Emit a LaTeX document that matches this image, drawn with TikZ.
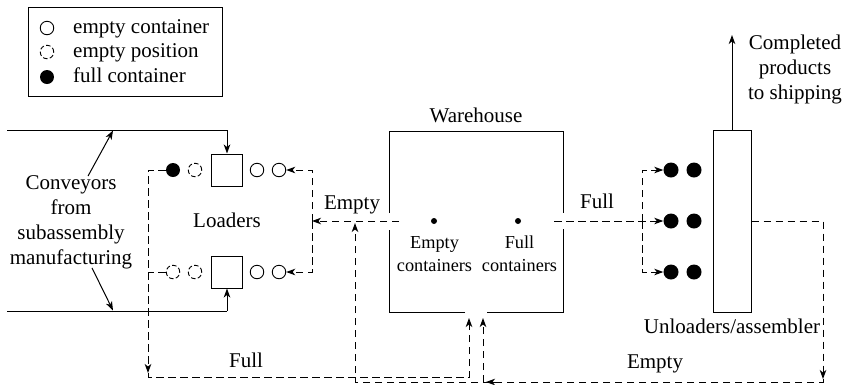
\documentclass[tikz,border=0pt]{standalone}
\usepackage{fontspec}
\setmainfont{Liberation Serif}
\usetikzlibrary{arrows.meta}
\begin{document}
\begin{tikzpicture}[x=1pt,y=-1pt,
  ln/.style={line width=1pt},
  dsh/.style={line width=1pt, dash pattern=on 7.5pt off 4.5pt},
  arr/.style={-{Stealth[length=9pt,width=6.5pt,inset=2.5pt]}},
  emptyc/.style={circle, draw, line width=0.9pt, minimum size=13.5pt, inner sep=0pt},
  emptyp/.style={emptyc, dash pattern=on 4.5pt off 2.4pt},
  fullc/.style={circle, fill=black, minimum size=14pt, inner sep=0pt},
  bigdot/.style={circle, fill=black, minimum size=15pt, inner sep=0pt},
  smalldot/.style={circle, fill=black, minimum size=6pt, inner sep=0pt},
  lbl/.style={font=\fontsize{21}{25}\selectfont, inner sep=0pt},
  mlbl/.style={font=\fontsize{21}{25}\selectfont, inner sep=0pt, align=center},
  inlbl/.style={font=\fontsize{18.3}{23}\selectfont, inner sep=0pt, align=center},
  box/.style={draw, line width=1pt, inner sep=0pt}]
\useasboundingbox (0,0) rectangle (843,384);

% legend
\node[box, line width=0.9pt, minimum width=194pt, minimum height=89pt] (legend) at (125,51.5) {};
\node[emptyc] (le1) at (47,28) {};
\node[emptyp] (le2) at (47,52) {};
\node[fullc] (le3) at (47,77) {};
\node[lbl, anchor=base west] (lt1) at (73,33) {empty container};
\node[lbl, anchor=base west] (lt2) at (73,57) {empty position};
\node[lbl, anchor=base west] (lt3) at (73,82) {full container};

% loaders
\node[box, minimum width=31pt, minimum height=32pt] (sqA) at (226.5,170) {};
\node[box, minimum width=31pt, minimum height=32pt] (sqB) at (226.5,272) {};
\node[fullc] (a1) at (173,170) {};
\node[emptyp] (a2) at (195,170) {};
\node[emptyc] (a3) at (257,170) {};
\node[emptyc] (a4) at (279,170) {};
\node[emptyp] (b1) at (173,272) {};
\node[emptyp] (b2) at (195,272) {};
\node[emptyc] (b3) at (257,272) {};
\node[emptyc] (b4) at (279,272) {};
\node[lbl, anchor=base] (loaders) at (227,227) {Loaders};

% conveyors
\coordinate (c1s) at (7,130);
\coordinate (c1k) at (227,130);
\coordinate (c2s) at (7,311);
\coordinate (c2k) at (227,311);
\draw[ln] (c1s) -- (c1k);
\draw[ln, arr] (c1k) -- (c1k |- sqA.north);
\draw[ln] (c2s) -- (c2k);
\draw[ln, arr] (c2k) -- (c2k |- sqB.south);
\node[mlbl] (conv) at (71,222) {Conveyors\\from\\subassembly\\manufacturing};
\coordinate (ca) at (113,130.5);
\coordinate (cb) at (113,310.5);
\draw[ln, arr] ([xshift=17pt,yshift=-1pt]conv.north) -- (ca);
\draw[ln, arr] ([xshift=21pt,yshift=1pt]conv.south) -- (cb);

% warehouse
\node[lbl, anchor=base] (whl) at (476,122) {Warehouse};
\coordinate (wNW) at (389,131);
\coordinate (wNE) at (563,131);
\coordinate (wSE) at (563,312);
\coordinate (wSW) at (389,312);
\draw[ln] (389,213) -- (wNW) -- (wNE) -- (563,213);
\draw[ln] (563,229) -- (wSE) -- (487,312);
\draw[ln] (465,312) -- (wSW) -- (389,230);
\node[smalldot] (edot) at (434,221) {};
\node[smalldot] (fdot) at (518,221) {};
\node[inlbl] (etxt) at (434.5,254) {Empty\\containers};
\node[inlbl] (ftxt) at (519.5,254) {Full\\containers};

% empty flow to loaders
\coordinate (eS) at (399,221);
\coordinate (rv1) at (312,170);
\coordinate (rvm) at (312,221);
\coordinate (rv2) at (312,272);
\draw[dsh, arr] (eS) -- (rvm);
\draw[dsh, arr] (rvm) -- (rv1) -- (a4.east);
\draw[dsh, arr] (rvm) -- (rv2) -- (b4.east);
\node[lbl, anchor=base] (emptyl) at (352,209) {Empty};

% full flow from loaders to warehouse
\coordinate (lv1) at (148,170);
\coordinate (lv2) at (148,373);
\coordinate (lv3) at (148,377);
\coordinate (lh) at (469,377);
\coordinate (win1) at (469,318);
\draw[dsh, arr] (a1.west) -- (lv1) -- (lv2);
\draw[dsh, arr] (lv2) -- (lv3) -- (lh) -- (win1);
\draw[dsh] (b1.west) -- (b1.west -| lv1);
\node[lbl, anchor=base] (fulll) at (246,367) {Full};

% full flow to unloaders
\node[bigdot] (u11) at (671,170) {};
\node[bigdot] (u12) at (694,170) {};
\node[bigdot] (u21) at (671,221) {};
\node[bigdot] (u22) at (694,221) {};
\node[bigdot] (u31) at (671,272) {};
\node[bigdot] (u32) at (694,272) {};
\coordinate (fS) at (554,221);
\coordinate (fv1) at (642,170);
\coordinate (fvm) at (642,221);
\coordinate (fv3) at (642,272);
\draw[dsh, arr] (fS) -- (u21.west);
\draw[dsh, arr] (fvm) -- (fv1) -- (u11.west);
\draw[dsh, arr] (fvm) -- (fv3) -- (u31.west);
\node[lbl, anchor=base] (fullr) at (597,208) {Full};

% unloaders / assembler
\node[box, minimum width=38pt, minimum height=182pt] (ua) at (732,221) {};
\coordinate (ship) at (732,35);
\draw[ln, arr] (ua.north) -- (ship);
\node[mlbl] (shiptxt) at (795,69) {Completed\\products\\to shipping};
\node[lbl, anchor=base] (ual) at (732,333) {Unloaders/assembler};

% empty return
\coordinate (er1) at (823,221);
\coordinate (er2) at (823,379);
\coordinate (er3) at (823,382);
\coordinate (er4) at (355,382);
\coordinate (er5) at (355,223);
\coordinate (br) at (483,382);
\coordinate (win2) at (483,318);
\coordinate (bl1) at (496,382);
\coordinate (bl2) at (486,382);
\draw[dsh, arr] (ua.east) -- (er1) -- (er2);
\draw[dsh, arr] (er2) -- (er3) -- (er4) -- (er5);
\draw[dsh, arr] (br) -- (win2);
\draw[ln, arr] (bl1) -- (bl2);
\node[lbl, anchor=base] (emptyb) at (655,368) {Empty};
\end{tikzpicture}
\end{document}
